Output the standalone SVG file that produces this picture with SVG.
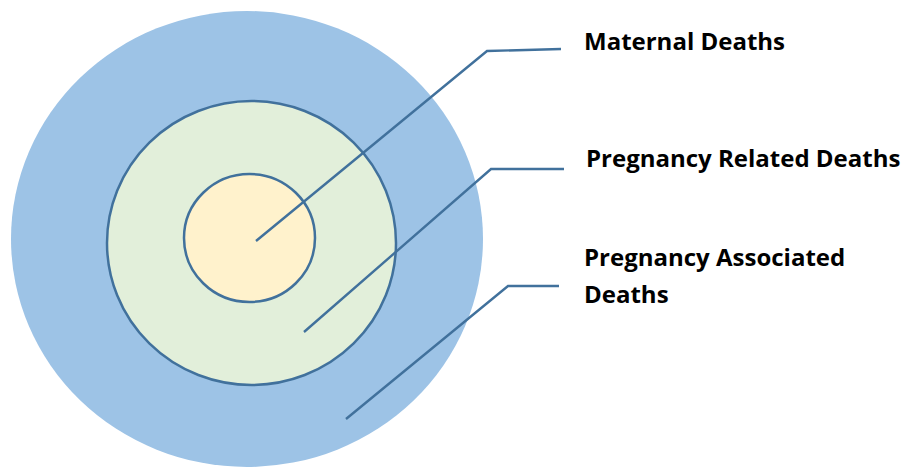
<svg xmlns="http://www.w3.org/2000/svg" width="908" height="467" viewBox="0 0 908 467">
<style>
.lbl{font-family:"Open Sans","Liberation Sans",sans-serif;font-weight:bold;font-size:24px;fill:#000}
.ring{stroke:#41719C;stroke-width:2.5}
.conn{fill:none;stroke:#41719C;stroke-width:2.4}
</style>
<rect width="908" height="467" fill="#fff"/>
<g id="outer"><ellipse cx="247" cy="239" rx="236" ry="228" fill="#9DC3E6"/></g>
<g id="middle"><ellipse class="ring" cx="251.5" cy="243" rx="144.5" ry="142" fill="#E2EFDA"/></g>
<g id="inner"><ellipse class="ring" cx="249.5" cy="238" rx="65.5" ry="64" fill="#FFF2CC"/></g>
<g id="connectors">
<polyline class="conn" points="256,241 487,51 561,49"/>
<polyline class="conn" points="304,332 491,169 564,169"/>
<polyline class="conn" points="346,419 508,286 559,286"/>
</g>
<g id="label-maternal"><text class="lbl" x="584" y="50">Maternal Deaths</text></g>
<g id="label-related"><text class="lbl" x="586" y="167">Pregnancy Related Deaths</text></g>
<g id="label-associated"><text class="lbl" x="584" y="266">Pregnancy Associated</text><text class="lbl" x="584" y="303">Deaths</text></g>
</svg>
